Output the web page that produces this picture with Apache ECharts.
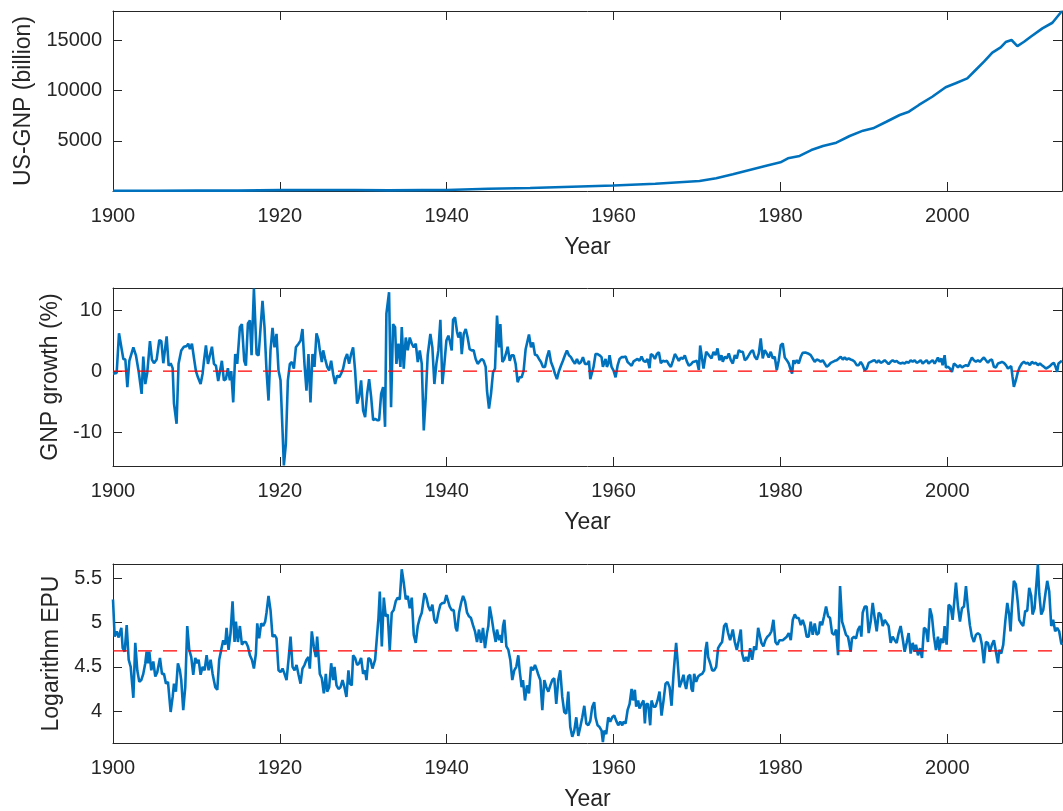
<!DOCTYPE html>
<html><head><meta charset="utf-8">
<script src="https://cdn.jsdelivr.net/npm/echarts@6/dist/echarts.min.js"></script>
<style>html,body{margin:0;padding:0;background:#fff}#c{width:1063px;height:811px}</style>
</head><body><div id="c"></div>
<script>
// ---- tick labels ----
const xTicks = [1900, 1920, 1940, 1960, 1980, 2000];
const gnpTicks = [5000, 10000, 15000];
const growthTicks = [-10, 0, 10];
const epuTicks = [4, 4.5, 5, 5.5];

// ---- US-GNP (billion) ----
const gnpYear = [1900,1905,1910,1915,1920,1925,1929,1933,1937,1940,1945,1950,1955,1960,1965,1970.3,1972.3,1974.3,1976.3,1978.3,1980,1980.9,1982.3,1983.7,1985.1,1986.7,1988.3,1989.9,1991.1,1992.7,1994.3,1995.4,1996.6,1998.2,1999.8,2001.0,2002.4,2003.4,2004.4,2005.4,2006.4,2007.0,2007.7,2008.4,2009.2,2010.0,2011.4,2012.6,2013.75];
const gnpValue = [20,25,35,40,90,95,105,60,90,100,225,300,420,545,720,996,1265,1660,2090,2520,2860,3255,3490,4080,4480,4810,5480,6010,6240,6900,7570,7900,8570,9390,10330,10730,11220,12050,12880,13780,14310,14840,15040,14440,14870,15370,16200,16760,17930];

// ---- GNP growth (%) ----
const growthYear = [1900.00,1900.44,1900.72,1901.04,1901.24,1901.48,1901.72,1901.96,1902.44,1902.75,1903.07,1903.23,1903.43,1903.63,1903.87,1904.11,1904.43,1904.67,1904.91,1905.23,1905.55,1905.79,1906.03,1906.19,1906.43,1906.67,1906.91,1907.15,1907.31,1907.62,1907.86,1908.18,1908.50,1908.82,1909.02,1909.22,1909.46,1909.70,1909.94,1910.18,1910.50,1910.74,1910.90,1911.14,1911.38,1911.62,1911.86,1912.10,1912.34,1912.61,1912.81,1913.05,1913.29,1913.53,1913.77,1914.01,1914.17,1914.41,1914.65,1914.89,1915.21,1915.45,1915.73,1915.93,1916.17,1916.41,1916.61,1916.89,1917.21,1917.45,1917.92,1918.16,1918.40,1918.64,1918.88,1919.12,1919.36,1919.60,1919.84,1920.08,1920.32,1920.48,1920.72,1920.96,1921.20,1921.44,1921.68,1921.92,1922.24,1922.48,1922.71,1922.95,1923.19,1923.43,1923.67,1923.91,1924.15,1924.39,1924.63,1924.79,1925.03,1925.19,1925.43,1925.67,1925.91,1926.15,1926.39,1926.63,1926.87,1927.11,1927.35,1927.58,1927.82,1928.06,1928.30,1928.54,1928.78,1929.02,1929.26,1929.50,1929.74,1929.98,1930.22,1930.46,1930.70,1930.94,1931.18,1931.42,1931.66,1931.90,1932.14,1932.38,1932.61,1932.77,1933.09,1933.33,1933.57,1933.81,1933.97,1934.21,1934.45,1934.61,1934.85,1935.09,1935.33,1935.57,1935.81,1936.05,1936.29,1936.53,1936.77,1937.01,1937.25,1937.49,1937.72,1938.04,1938.28,1938.52,1938.76,1939.00,1939.24,1939.48,1939.72,1939.96,
1940.20,1940.36,1940.60,1940.76,1941.00,1941.24,1941.40,1941.64,1941.80,1942.04,1942.28,1942.51,1942.75,1942.99,1943.23,1943.47,1943.71,1943.95,1944.19,1944.43,1944.67,1944.83,1945.07,1945.31,1945.55,1945.79,1946.03,1946.27,1946.43,1946.67,1946.91,1947.15,1947.31,1947.55,1947.78,1948.02,1948.26,1948.50,1948.74,1948.98,1949.22,1949.46,1949.62,1949.86,1950.10,1950.34,1950.58,1950.82,1951.06,1951.30,1951.54,1951.78,1952.02,1952.26,1952.50,1952.73,1952.97,1953.21,1953.45,1953.69,1953.93,1954.17,1954.41,1954.65,1954.89,1955.13,1955.37,1955.61,1955.85,1956.09,1956.33,1956.57,1956.73,1956.89,1957.05,1957.21,1957.44,1957.60,1957.84,1958.08,1958.32,1958.56,1958.72,1958.88,1959.04,1959.20,1959.36,1959.52,1959.76,1960.00,1960.24,1960.48,1960.72,1960.96,1961.20,1961.44,1961.68,1961.92,1962.16,1962.40,1962.63,1962.87,1963.11,1963.35,1963.59,1963.83,1964.07,1964.31,1964.47,1964.71,1964.95,1965.19,1965.43,1965.67,1965.91,1966.15,1966.39,1966.63,1966.87,1967.11,1967.35,1967.58,1967.82,1968.06,1968.30,1968.54,1968.78,1969.02,1969.26,1969.50,1969.74,1969.98,1970.22,1970.38,
1970.78,1971.10,1971.42,1971.74,1971.98,1972.22,1972.46,1972.69,1972.93,1973.09,1973.33,1973.57,1973.81,1974.05,1974.29,1974.53,1974.77,1975.01,1975.25,1975.49,1975.73,1975.97,1976.21,1976.45,1976.69,1976.93,1977.17,1977.41,1977.64,1977.88,1978.12,1978.36,1978.60,1978.84,1979.08,1979.32,1979.56,1979.80,1980.04,1980.28,1980.52,1980.76,1981.00,1981.24,1981.40,1981.56,1981.72,1981.96,1982.20,1982.44,1982.67,1982.99,1983.31,1983.63,1983.87,1984.11,1984.35,1984.59,1984.83,1985.07,1985.31,1985.55,1985.79,1986.03,1986.27,1986.51,1986.75,1986.99,1987.23,1987.47,1987.70,1987.94,1988.18,1988.42,1988.66,1988.90,1989.14,1989.38,1989.62,1989.86,1990.10,1990.34,1990.58,1990.82,1991.06,1991.30,1991.54,1991.78,1992.02,1992.26,1992.50,1992.73,1992.97,1993.21,1993.45,1993.69,1993.93,1994.17,1994.41,1994.65,1994.89,1995.13,1995.37,1995.61,1995.85,1996.09,1996.33,1996.57,1996.81,1997.05,1997.29,1997.53,1997.76,1998.00,1998.24,1998.48,1998.72,1998.88,1999.04,1999.28,1999.44,1999.68,1999.84,2000.08,2000.32,2000.56,2000.80,2001.04,2001.28,2001.52,2001.76,2002.00,2002.24,2002.48,2002.71,2002.95,2003.19,2003.43,2003.67,2003.91,2004.15,2004.39,2004.63,2004.87,2005.11,2005.35,2005.59,2005.83,2006.07,2006.31,2006.55,2006.79,2007.03,2007.27,2007.50,2007.66,2007.82,2007.98,2008.22,2008.46,2008.70,2008.94,2009.18,2009.42,2009.66,2009.90,2010.14,2010.38,2010.62,2010.86,2011.10,2011.34,2011.58,2011.82,2012.06,2012.30,2012.53,2012.77,2013.01,2013.17,2013.33,2013.49,2013.73];
const growthValue = [-0.4,-0.3,6.2,3.6,2.0,1.9,-2.6,1.7,3.9,2.6,0.0,-0.2,-3.7,2.4,-2.1,-0.2,4.9,1.9,1.3,1.9,5.1,4.9,1.3,1.6,5.7,0.9,1.3,0.5,-5.3,-8.6,1.2,3.4,4.0,4.1,4.5,3.6,4.5,2.2,0.0,-1.0,-2.1,-0.4,1.6,4.2,1.2,2.6,4.0,1.2,0.9,-1.6,-1.5,1.7,-1.5,-1.3,0.5,-1.5,0.0,-5.1,2.8,1.2,7.2,7.7,1.7,0.9,7.8,8.3,2.6,13.5,2.8,2.6,11.5,7.2,0.1,-4.8,3.4,7.1,3.9,6.1,0.1,-1.5,-9.7,-15.4,-11.9,-1.5,1.2,1.5,0.4,3.9,4.5,5.0,6.9,1.2,-3.2,2.8,-5.1,2.8,0.7,6.2,5.1,3.4,1.5,3.4,2.0,0.7,0.1,1.7,-0.5,-2.1,-0.7,-1.0,-0.4,0.4,2.0,2.8,1.2,2.8,3.9,0.1,-5.3,-4.2,-1.5,-6.4,-7.5,-3.7,-1.3,-4.2,-8.0,-7.8,-8.0,-8.0,-3.7,-2.6,-9.1,9.4,12.9,-5.9,7.7,7.2,1.2,4.5,0.7,7.2,0.4,5.5,3.4,5.5,4.5,3.9,4.5,1.5,3.4,1.2,-9.7,-4.2,2.6,6.1,3.9,-2.1,1.2,3.4,8.4,-2.1,1.2,5.0,
5.8,5.0,3.4,8.4,8.8,6.4,5.5,6.4,2.8,6.1,6.9,5.5,3.6,3.4,3.4,2.0,1.2,1.6,2.0,1.7,0.7,-3.2,-6.1,-3.7,-0.2,0.4,9.1,3.9,7.7,1.5,2.0,3.1,4.0,1.7,2.6,2.6,1.2,-1.8,-1.0,-1.0,0.1,3.6,3.9,6.0,3.9,4.7,2.7,2.6,2.0,1.5,0.7,0.7,2.3,3.4,1.5,0.7,-0.4,-1.3,0.0,0.9,1.7,2.6,3.4,2.6,2.3,1.7,1.2,2.0,1.2,1.5,2.3,1.2,1.5,1.2,1.7,-1.3,-1.5,0.7,2.8,2.8,2.6,2.3,0.7,0.7,2.0,0.7,1.2,2.6,0.7,0.1,-1.0,0.9,2.0,2.3,2.3,2.4,1.5,1.2,0.9,1.6,1.3,2.0,1.7,2.4,1.7,1.5,2.0,0.5,2.8,2.6,2.0,2.8,3.1,1.3,1.7,1.6,1.7,1.1,0.7,1.7,2.8,2.3,1.7,2.2,2.0,2.6,1.6,0.9,1.1,1.5,1.6,1.7,0.2,4.2,
0.44,3.17,2.62,2.08,3.17,2.62,3.72,1.80,2.62,1.53,2.35,2.08,2.90,1.80,1.26,2.62,2.08,3.44,3.17,3.17,1.80,2.08,2.62,3.17,3.44,2.35,1.91,2.90,5.36,2.08,3.44,2.90,2.24,3.17,2.08,2.35,0.16,1.80,4.26,4.54,2.24,1.80,1.26,0.16,-0.38,1.80,1.26,1.80,1.26,2.35,3.01,3.06,2.90,2.62,2.08,1.53,1.91,1.80,1.53,1.80,1.26,0.71,0.98,1.37,1.53,1.69,1.80,2.08,2.35,1.91,2.24,1.91,2.08,1.91,1.80,1.53,0.98,0.98,1.53,0.98,0.16,0.44,1.37,1.53,1.69,1.80,1.37,1.80,1.37,1.53,1.80,1.53,1.15,1.53,1.80,1.53,1.69,1.37,1.26,1.37,1.26,1.53,1.37,1.80,1.53,1.80,1.37,1.53,1.80,1.26,1.53,1.80,1.26,1.53,1.80,1.26,1.80,2.24,1.53,2.08,0.98,2.62,0.60,0.71,0.44,-0.11,1.26,0.98,0.60,0.98,0.60,0.82,0.98,0.82,1.53,2.24,1.80,1.53,1.80,1.53,1.91,2.24,1.80,1.37,1.80,1.91,0.71,0.60,1.26,1.37,1.53,1.37,0.98,0.44,0.16,0.82,-0.93,-2.57,-1.48,-0.11,0.71,1.26,1.53,1.26,1.37,0.98,1.53,1.26,1.37,0.98,1.26,0.98,0.71,0.44,0.60,0.82,1.15,1.37,0.60,-0.11,1.26,1.53,1.69];

// ---- Logarithm EPU ----
const epuYear = [1900.00,1900.20,1900.44,1900.68,1900.84,1901.00,1901.16,1901.40,1901.64,1901.88,1902.12,1902.44,1902.67,1902.91,1903.15,1903.39,1903.63,1903.87,1904.03,1904.19,1904.35,1904.59,1904.83,1905.07,1905.31,1905.63,1905.87,1906.11,1906.35,1906.59,1906.91,1907.15,1907.31,1907.54,1907.78,1908.02,1908.18,1908.42,1908.66,1908.90,1909.14,1909.38,1909.62,1909.86,1910.10,1910.26,1910.50,1910.74,1910.98,1911.22,1911.46,1911.70,1911.94,1912.26,1912.50,1912.73,1912.97,1913.21,1913.45,1913.61,1913.85,1914.09,1914.33,1914.57,1914.73,1914.97,1915.21,1915.45,1915.69,1915.93,1916.17,1916.41,1916.65,1916.89,1917.13,1917.29,1917.52,1917.76,1918.00,1918.24,1918.40,1918.64,1918.88,1919.12,1919.36,1919.60,1919.84,1920.08,1920.32,1920.56,1920.80,1921.04,1921.28,1921.52,1921.76,1922.00,1922.24,1922.48,1922.71,1922.95,1923.19,1923.43,1923.59,1923.83,1924.07,1924.31,1924.47,1924.63,1924.79,1925.03,1925.27,1925.51,1925.67,1925.91,1926.15,1926.39,1926.55,1926.79,1927.03,1927.27,1927.51,1927.74,1927.98,1928.22,1928.38,1928.62,1928.78,1929.02,1929.26,1929.50,1929.74,1929.98,1930.22,1930.38,1930.62,1930.86,1931.10,1931.26,1931.42,1931.58,1931.82,1931.98,1932.22,1932.46,1932.69,1932.93,1933.17,1933.41,1933.65,1933.89,1934.13,1934.37,1934.61,1934.85,1935.09,1935.33,1935.57,1935.81,1936.05,1936.29,1936.53,1936.77,1937.01,1937.33,1937.57,1937.80,1938.04,1938.28,1938.52,1938.76,1939.00,1939.24,1939.48,1939.72,1939.96,
1940.12,1940.36,1940.60,1940.84,1941.08,1941.24,1941.48,1941.72,1941.96,1942.20,1942.44,1942.67,1942.91,1943.15,1943.39,1943.63,1943.87,1944.11,1944.35,1944.59,1944.83,1944.99,1945.15,1945.39,1945.63,1945.87,1946.03,1946.27,1946.43,1946.59,1946.75,1946.91,1947.15,1947.39,1947.62,1947.86,1948.10,1948.34,1948.58,1948.74,1948.98,1949.14,1949.38,1949.62,1949.86,1950.10,1950.34,1950.58,1950.82,1950.98,1951.22,1951.46,1951.70,1951.94,1952.18,1952.42,1952.65,1952.89,1953.13,1953.37,1953.61,1953.85,1954.09,1954.33,1954.57,1954.81,1955.05,1955.29,1955.53,1955.77,1956.01,1956.25,1956.49,1956.73,1956.97,1957.21,1957.45,1957.68,1957.84,1958.08,1958.32,1958.56,1958.72,1958.88,1959.12,1959.36,1959.60,1959.84,1960.08,1960.32,1960.56,1960.80,1961.04,1961.20,1961.44,1961.68,1961.92,1962.16,1962.32,1962.55,1962.71,1962.95,1963.11,1963.35,1963.59,1963.75,1963.91,1964.15,1964.39,1964.55,1964.79,1965.03,1965.27,1965.51,1965.75,1965.99,1966.23,1966.47,1966.71,1966.95,1967.19,1967.35,1967.50,1967.66,1967.90,1968.14,1968.38,1968.54,1968.70,1968.94,1969.18,1969.34,1969.50,1969.66,1969.90,1970.14,1970.38,1970.62,1970.86,1971.02,1971.18,1971.34,1971.58,1971.82,1972.06,1972.30,1972.53,1972.77,1973.01,1973.25,1973.49,1973.73,1973.97,1974.13,1974.29,1974.53,1974.77,1975.01,1975.25,1975.41,1975.65,1975.89,1976.13,1976.37,1976.61,1976.85,1977.09,1977.33,1977.56,1977.72,1977.96,1978.20,1978.44,1978.68,1978.92,1979.16,1979.40,1979.64,1979.88,
1980.04,1980.28,1980.52,1980.76,1981.00,1981.24,1981.48,1981.72,1981.96,1982.20,1982.44,1982.67,1982.91,1983.15,1983.39,1983.63,1983.87,1984.11,1984.35,1984.59,1984.75,1984.99,1985.23,1985.47,1985.71,1985.95,1986.19,1986.43,1986.67,1986.91,1987.15,1987.39,1987.62,1987.86,1988.10,1988.26,1988.42,1988.58,1988.82,1989.06,1989.30,1989.54,1989.70,1989.86,1990.10,1990.34,1990.58,1990.82,1991.06,1991.30,1991.54,1991.78,1992.02,1992.26,1992.50,1992.73,1992.97,1993.21,1993.45,1993.69,1993.93,1994.17,1994.41,1994.65,1994.89,1995.13,1995.37,1995.61,1995.85,1996.09,1996.25,1996.49,1996.73,1996.97,1997.21,1997.45,1997.68,1997.92,1998.16,1998.40,1998.64,1998.88,1999.04,1999.28,1999.52,1999.68,1999.92,2000.16,2000.40,2000.64,2000.88,2001.04,2001.28,2001.52,2001.76,2002.00,2002.24,2002.48,2002.71,2002.95,2003.19,2003.43,2003.67,2003.91,2004.15,2004.39,2004.63,2004.87,2005.11,2005.35,2005.59,2005.83,2006.07,2006.23,2006.47,2006.71,2006.95,2007.19,2007.42,2007.58,2007.74,2007.98,2008.22,2008.46,2008.62,2008.86,2009.10,2009.34,2009.58,2009.82,2010.06,2010.22,2010.46,2010.62,2010.86,2011.02,2011.26,2011.50,2011.74,2011.98,2012.22,2012.46,2012.69,2012.93,2013.17,2013.41,2013.65,2013.75];
const epuValue = [5.26,4.84,4.90,4.83,4.89,4.94,4.71,4.67,4.97,4.58,4.50,4.15,4.77,4.46,4.33,4.35,4.42,4.54,4.67,4.54,4.67,4.46,4.56,4.39,4.44,4.60,4.42,4.42,4.31,4.33,3.99,4.16,4.31,4.22,4.54,4.46,4.35,4.01,4.27,4.96,4.69,4.61,4.41,4.60,4.54,4.58,4.41,4.50,4.46,4.63,4.46,4.58,4.42,4.27,4.24,4.58,4.69,4.80,4.75,4.94,4.69,4.88,5.24,4.78,5.01,4.78,4.96,4.75,4.78,4.78,4.73,4.63,4.58,4.48,4.65,4.99,4.82,4.99,4.96,5.01,5.11,5.30,5.14,4.84,4.86,4.82,4.46,4.44,4.48,4.42,4.35,4.58,4.84,4.50,4.46,4.52,4.41,4.31,4.48,4.52,4.58,4.61,4.48,4.90,4.73,4.61,4.84,4.63,4.42,4.37,4.20,4.42,4.22,4.27,4.54,4.35,4.50,4.29,4.25,4.27,4.35,4.27,4.16,4.46,4.31,4.29,4.63,4.60,4.52,4.54,4.60,4.42,4.46,4.35,4.60,4.58,4.48,4.46,4.58,4.77,5.05,5.35,4.73,5.28,5.07,5.09,4.69,5.11,5.14,5.24,5.28,5.26,5.60,5.45,5.26,5.30,5.16,5.28,4.86,4.77,4.96,5.05,5.11,5.33,5.28,5.18,5.13,5.20,5.03,4.99,5.11,5.20,5.22,5.22,5.31,
5.30,5.18,5.14,5.14,4.94,4.90,5.11,5.22,5.30,5.24,5.11,5.07,5.05,4.97,4.90,4.78,4.92,4.77,4.94,4.71,4.88,4.96,5.18,5.05,4.90,4.78,4.92,4.80,4.86,4.77,4.96,5.03,4.73,4.69,4.58,4.35,4.46,4.50,4.63,4.46,4.27,4.35,4.12,4.29,4.20,4.50,4.46,4.52,4.46,4.41,4.35,4.01,4.35,4.27,4.22,4.29,4.35,4.37,4.08,4.35,4.46,4.16,3.99,3.97,4.22,3.82,3.71,3.78,3.93,3.72,3.82,3.93,4.06,3.86,3.84,3.89,4.05,4.10,3.93,3.84,3.82,3.78,3.65,3.78,3.74,3.93,3.88,3.93,3.95,3.89,3.84,3.88,3.84,3.88,3.86,4.01,4.08,4.25,4.12,4.24,4.05,4.12,4.03,4.08,4.12,3.86,4.08,4.08,3.84,4.12,4.05,4.05,4.12,4.22,3.95,4.12,4.31,4.33,4.27,4.06,4.42,4.61,4.77,4.58,4.27,4.33,4.41,4.31,4.25,4.39,4.41,4.25,4.22,4.42,4.33,4.39,4.41,4.42,4.46,4.69,4.78,4.61,4.54,4.46,4.46,4.50,4.71,4.75,4.78,4.96,4.99,4.88,4.80,4.82,4.92,4.78,4.69,4.80,4.92,4.65,4.56,4.61,4.56,4.71,4.58,4.73,4.69,4.94,4.92,4.77,4.73,4.80,4.84,4.86,4.90,5.03,4.78,4.75,4.80,
4.80,4.80,4.82,4.84,4.88,4.80,5.03,5.09,5.05,5.05,4.97,5.03,4.96,4.84,4.84,5.01,4.86,4.99,4.86,4.88,5.01,4.97,5.07,5.18,5.07,5.05,4.88,4.86,4.92,4.63,5.41,5.01,4.94,4.86,4.84,4.86,4.67,4.82,4.84,4.82,4.92,4.96,4.84,5.11,5.18,5.18,4.88,5.01,5.22,5.05,4.90,5.11,5.09,4.96,5.03,5.03,4.96,4.77,4.84,4.80,4.77,4.88,4.96,4.82,4.67,4.77,4.88,4.65,4.77,4.67,4.75,4.63,4.71,4.60,4.94,4.92,4.78,5.16,5.07,4.84,4.69,4.84,4.69,4.82,4.77,4.96,4.75,5.20,5.18,5.03,5.28,5.45,5.18,5.01,5.16,5.18,5.41,5.16,4.97,4.84,4.78,4.86,4.88,4.86,4.75,4.54,4.78,4.77,4.67,4.75,4.80,4.67,4.54,4.69,4.65,4.75,5.01,5.22,5.09,4.90,5.16,5.47,5.43,5.22,5.03,4.99,4.96,5.13,5.13,5.39,5.30,5.09,5.16,5.16,5.655,5.33,5.09,5.14,5.31,5.47,5.35,4.96,5.03,4.90,4.94,4.90,4.77,4.75];

const growthMean = 0;
const epuMean = 4.68;

// ---- build ----
const FONT = "'Liberation Sans', Arial, Helvetica, sans-serif";
const AX = '#262626';
const zip = (a, b) => a.map((x, i) => [x, b[i]]);
const XMIN = 1900, XMAX = 2013.75;
const plain = v => String(v);

const grids = [
  { left: 113, top: 11, right: 1, height: 180 },
  { left: 113, top: 288, right: 1, height: 178 },
  { left: 113, top: 564, right: 1, height: 179 }
].map(g => Object.assign({ outerBoundsMode: 'none', containLabel: false, show: false }, g));

const yConf = [
  { min: 0, max: 17930, ticks: gnpTicks, name: 'US-GNP (billion)', gap: 63 },
  { min: -15.5, max: 13.6, ticks: growthTicks, name: 'GNP growth (%)', gap: 41.5 },
  { min: 3.64, max: 5.66, ticks: epuTicks, name: 'Logarithm EPU', gap: 41 }
];

const xAxis = [], yAxis = [];
for (let i = 0; i < 3; i++) {
  const line = { show: true, onZero: false, lineStyle: { color: AX, width: 1 } };
  xAxis.push({
    type: 'value', gridIndex: i, min: XMIN, max: XMAX, position: 'bottom',
    axisLine: line,
    axisTick: { show: true, inside: true, length: 9, customValues: xTicks, lineStyle: { color: AX } },
    axisLabel: { show: true, customValues: xTicks, formatter: plain, fontSize: 20, color: AX, fontFamily: FONT, margin: 15 },
    splitLine: { show: false },
    name: 'Year', nameLocation: 'middle', nameGap: 45,
    nameTextStyle: { fontSize: 23, color: AX, fontFamily: FONT }
  });
  xAxis.push({
    type: 'value', gridIndex: i, min: XMIN, max: XMAX, position: 'top',
    axisLine: line,
    axisTick: { show: true, inside: true, length: 9, customValues: xTicks, lineStyle: { color: AX } },
    axisLabel: { show: false }, splitLine: { show: false }
  });
  const c = yConf[i];
  yAxis.push({
    type: 'value', gridIndex: i, min: c.min, max: c.max, position: 'left',
    axisLine: line,
    axisTick: { show: true, inside: true, length: 9, customValues: c.ticks, lineStyle: { color: AX } },
    axisLabel: { show: true, customValues: c.ticks, formatter: plain, fontSize: 20, color: AX, fontFamily: FONT, margin: 11 },
    splitLine: { show: false },
    name: c.name, nameLocation: 'middle', nameGap: c.gap,
    nameTextStyle: { fontSize: 23, color: AX, fontFamily: FONT }
  });
  yAxis.push({
    type: 'value', gridIndex: i, min: c.min, max: c.max, position: 'right',
    axisLine: line,
    axisTick: { show: true, inside: true, length: 9, customValues: c.ticks, lineStyle: { color: AX } },
    axisLabel: { show: false }, splitLine: { show: false }
  });
}

const blue = { type: 'line', showSymbol: false, symbol: 'none', silent: true,
  lineStyle: { color: '#0072BD', width: 2.6 }, itemStyle: { color: '#0072BD' }, z: 2 };
const dash = { type: 'line', showSymbol: false, symbol: 'none', silent: true,
  lineStyle: { color: '#FF0000', width: 1.2, type: [14, 11] }, z: 3 };

const series = [
  Object.assign({}, blue, { xAxisIndex: 0, yAxisIndex: 0, data: zip(gnpYear, gnpValue) }),
  Object.assign({}, blue, { xAxisIndex: 2, yAxisIndex: 2, data: zip(growthYear, growthValue) }),
  Object.assign({}, dash, { xAxisIndex: 2, yAxisIndex: 2, data: [[XMIN, growthMean], [XMAX, growthMean]] }),
  Object.assign({}, blue, { xAxisIndex: 4, yAxisIndex: 4, data: zip(epuYear, epuValue) }),
  Object.assign({}, dash, { xAxisIndex: 4, yAxisIndex: 4, data: [[XMIN, epuMean], [XMAX, epuMean]] })
];

const chart = echarts.init(document.getElementById('c'), null, { renderer: 'canvas' });
chart.setOption({
  backgroundColor: '#ffffff',
  animation: false,
  grid: grids, xAxis, yAxis, series
});
</script>
</body></html>
